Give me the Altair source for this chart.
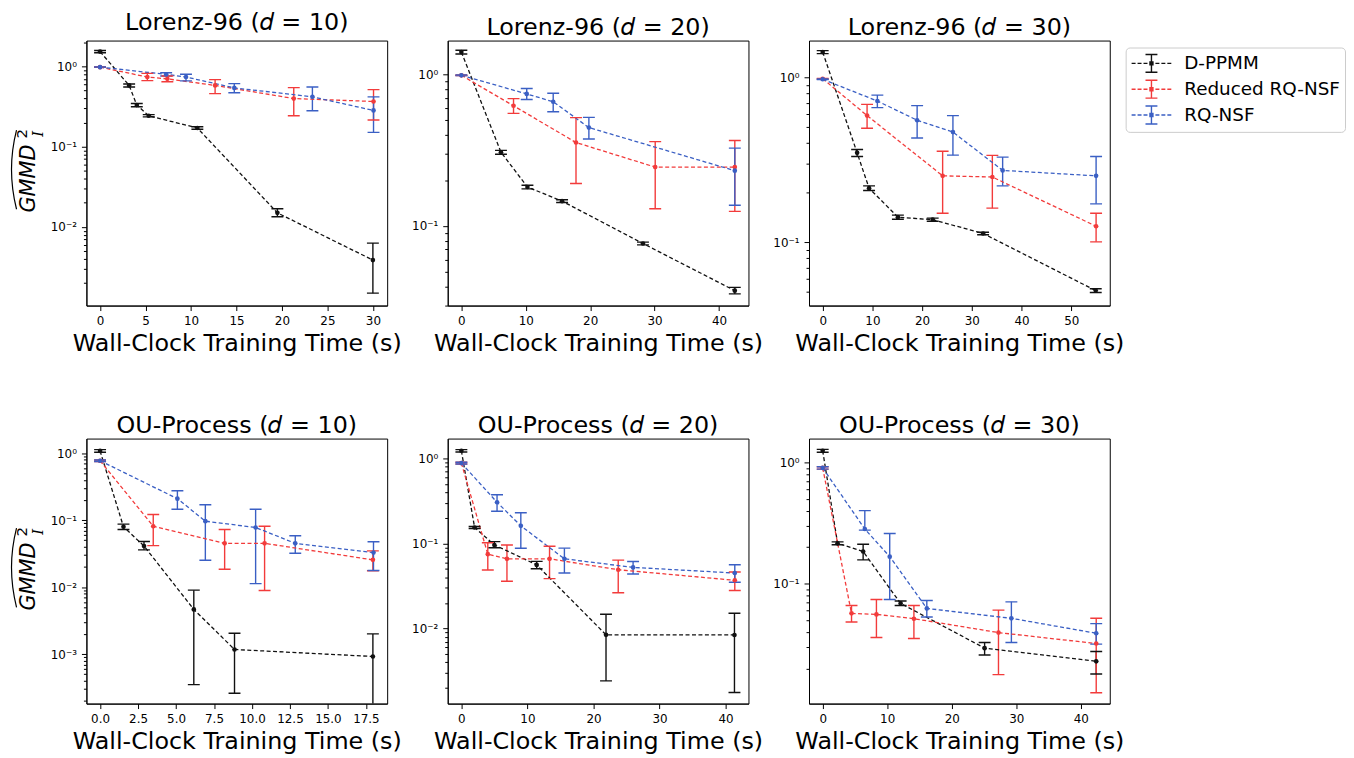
import altair as alt
import pandas as pd

FONT = "DejaVu Sans"
SERIES = ["D-PPMM", "Reduced RQ-NSF", "RQ-NSF"]
COLORS = ["#111111", "#f23b3b", "#3a5fc4"]
XTITLE = "Wall-Clock Training Time (s)"

# ---------------- Lorenz-96 (d = 10) ----------------
L10_DP_T = [0, 3.2, 4.04, 5.35, 10.7, 19.5, 30.0]
L10_DP_V = [1.53, 0.58, 0.33, 0.243, 0.171, 0.0150, 0.00387]
L10_DP_LO = [1.48, 0.555, 0.315, 0.235, 0.165, 0.0134, 0.0015]
L10_DP_HI = [1.58, 0.605, 0.345, 0.251, 0.177, 0.0169, 0.0063]
L10_RR_T = [0, 5.2, 7.4, 12.65, 21.3, 30.07]
L10_RR_V = [0.98, 0.738, 0.70, 0.58, 0.398, 0.366]
L10_RR_LO = [0.975, 0.665, 0.645, 0.459, 0.243, 0.215]
L10_RR_HI = [0.985, 0.82, 0.76, 0.684, 0.545, 0.514]
L10_RQ_T = [0, 7.27, 9.45, 14.76, 23.35, 30.07]
L10_RQ_V = [0.98, 0.796, 0.738, 0.54, 0.418, 0.283]
L10_RQ_LO = [0.975, 0.76, 0.66, 0.47, 0.28, 0.151]
L10_RQ_HI = [0.985, 0.835, 0.80, 0.61, 0.555, 0.418]

# ---------------- Lorenz-96 (d = 20) ----------------
L20_DP_T = [0, 6.15, 10.26, 15.64, 28.2, 42.46]
L20_DP_V = [1.41, 0.307, 0.181, 0.146, 0.0766, 0.0374]
L20_DP_LO = [1.37, 0.298, 0.176, 0.143, 0.0750, 0.0356]
L20_DP_HI = [1.45, 0.316, 0.186, 0.149, 0.0782, 0.0393]
L20_RR_T = [0, 8.1, 17.8, 30.1, 42.46]
L20_RR_V = [0.99, 0.623, 0.356, 0.245, 0.245]
L20_RR_LO = [0.985, 0.555, 0.191, 0.13, 0.125]
L20_RR_HI = [0.995, 0.695, 0.52, 0.361, 0.367]
L20_RQ_T = [0, 10.15, 14.26, 19.8, 42.46]
L20_RQ_V = [0.99, 0.746, 0.662, 0.447, 0.232]
L20_RQ_LO = [0.985, 0.685, 0.569, 0.376, 0.137]
L20_RQ_HI = [0.995, 0.81, 0.754, 0.522, 0.327]

# ---------------- Lorenz-96 (d = 30) ----------------
L30_DP_T = [0, 6.93, 9.33, 15.13, 22.13, 32.27, 54.93]
L30_DP_V = [1.43, 0.349, 0.213, 0.142, 0.137, 0.113, 0.0508]
L30_DP_LO = [1.40, 0.332, 0.206, 0.138, 0.134, 0.111, 0.0495]
L30_DP_HI = [1.46, 0.366, 0.220, 0.146, 0.140, 0.115, 0.0521]
L30_RR_T = [0, 8.93, 24.13, 34.13, 55.0]
L30_RR_V = [0.985, 0.588, 0.253, 0.249, 0.125]
L30_RR_LO = [0.98, 0.493, 0.15, 0.161, 0.1005]
L30_RR_HI = [0.99, 0.688, 0.357, 0.337, 0.15]
L30_RQ_T = [0, 11.0, 19.0, 26.2, 36.2, 55.0]
L30_RQ_V = [0.977, 0.721, 0.551, 0.467, 0.273, 0.253]
L30_RQ_LO = [0.972, 0.657, 0.43, 0.338, 0.22, 0.171]
L30_RQ_HI = [0.982, 0.783, 0.676, 0.588, 0.329, 0.332]

# ---------------- OU-Process (d = 10) ----------------
O10_DP_T = [0, 1.54, 2.89, 6.17, 8.85, 17.96]
O10_DP_V = [1.08, 0.0795, 0.0411, 0.00464, 0.00117, 0.00092]
O10_DP_LO = [1.03, 0.0725, 0.036, 0.00035, 0.00026, 0.0001]
O10_DP_HI = [1.13, 0.087, 0.048, 0.009, 0.00204, 0.002]
O10_RR_T = [0, 3.5, 8.2, 10.83, 17.96]
O10_RR_V = [0.77, 0.081, 0.045, 0.045, 0.0255]
O10_RR_LO = [0.75, 0.0416, 0.0185, 0.0089, 0.0175]
O10_RR_HI = [0.79, 0.121, 0.0725, 0.081, 0.0347]
O10_RQ_T = [0, 5.09, 6.93, 10.24, 12.85, 18.0]
O10_RQ_V = [0.77, 0.209, 0.0964, 0.0776, 0.045, 0.0327]
O10_RQ_LO = [0.75, 0.145, 0.0251, 0.01125, 0.032, 0.0177]
O10_RQ_HI = [0.79, 0.274, 0.17, 0.145, 0.0584, 0.0476]

# ---------------- OU-Process (d = 20) ----------------
O20_DP_T = [0, 2.0, 5.0, 11.4, 21.9, 41.35]
O20_DP_V = [1.23, 0.154, 0.096, 0.056, 0.00843, 0.0084]
O20_DP_LO = [1.19, 0.150, 0.089, 0.0505, 0.00242, 0.00177]
O20_DP_HI = [1.27, 0.158, 0.105, 0.0615, 0.0147, 0.0151]
O20_RR_T = [0, 4.0, 6.9, 13.35, 23.75, 41.4]
O20_RR_V = [0.88, 0.0748, 0.066, 0.066, 0.0491, 0.0369]
O20_RR_LO = [0.86, 0.0487, 0.0359, 0.0386, 0.0263, 0.028]
O20_RR_HI = [0.90, 0.102, 0.096, 0.0927, 0.0637, 0.0461]
O20_RQ_T = [0, 5.4, 9.0, 15.6, 26.0, 41.4]
O20_RQ_V = [0.88, 0.305, 0.161, 0.066, 0.0523, 0.0449]
O20_RQ_LO = [0.86, 0.239, 0.0879, 0.0449, 0.0437, 0.035]
O20_RQ_HI = [0.90, 0.374, 0.23, 0.088, 0.0614, 0.0562]

# ---------------- OU-Process (d = 30) ----------------
O30_DP_T = [0, 2.31, 6.27, 12.08, 25.1, 42.4]
O30_DP_V = [1.245, 0.215, 0.184, 0.0687, 0.0294, 0.0229]
O30_DP_LO = [1.21, 0.209, 0.157, 0.066, 0.0258, 0.018]
O30_DP_HI = [1.28, 0.221, 0.211, 0.072, 0.0327, 0.0276]
O30_RR_T = [0, 4.47, 8.33, 14.14, 27.25, 42.4]
O30_RR_V = [0.9, 0.0569, 0.0558, 0.0514, 0.0395, 0.0321]
O30_RR_LO = [0.88, 0.0483, 0.036, 0.0353, 0.0178, 0.0126]
O30_RR_HI = [0.92, 0.066, 0.074, 0.066, 0.0605, 0.0518]
O30_RQ_T = [0, 6.53, 10.39, 16.14, 29.25, 42.4]
O30_RQ_V = [0.9, 0.282, 0.167, 0.0625, 0.0518, 0.039]
O30_RQ_LO = [0.88, 0.276, 0.074, 0.0531, 0.0327, 0.0317]
O30_RQ_HI = [0.92, 0.4, 0.259, 0.0726, 0.0708, 0.0468]

# axis ranges / tick values
L10_XDOM, L10_YDOM, L10_XTICKS = [-1.5, 31.57], [0.00105, 2.1], [0, 5, 10, 15, 20, 25, 30]
L20_XDOM, L20_YDOM, L20_XTICKS = [-2.12, 44.58], [0.0298, 1.68], [0, 10, 20, 30, 40]
L30_XDOM, L30_YDOM, L30_XTICKS = [-2.75, 57.75], [0.0412, 1.68], [0, 10, 20, 30, 40, 50]
O10_XDOM, O10_YDOM, O10_XTICKS = [-0.9, 18.9], [0.000182, 1.65], [0, 2.5, 5, 7.5, 10, 12.5, 15, 17.5]
O20_XDOM, O20_YDOM, O20_XTICKS = [-2.07, 43.47], [0.00131, 1.71], [0, 10, 20, 30, 40]
O30_XDOM, O30_YDOM, O30_XTICKS = [-2.12, 44.5], [0.01026, 1.57], [0, 10, 20, 30, 40]

W, H = 303, 267
LOGE = "log(datum.value)/LN10"
DEC_TEST = f"abs({LOGE} - round({LOGE})) < 0.001"
LABEL_EXPR = (
    f"({DEC_TEST}) ? (round({LOGE}) == 0 ? '10⁰' : round({LOGE}) == -1 ? '10⁻¹' : "
    f"round({LOGE}) == -2 ? '10⁻²' : round({LOGE}) == -3 ? '10⁻³' : '10⁻⁴') : ''"
)

LEG_PATH = (
    "M-1,0H-0.6M-0.4,0H0M0.2,0H0.6M0.8,0H1.2M1.4,0H1.8M2,0H2.4M2.6,0H3"
    "M1,-0.9V0.9M0.4,-0.9H1.6M0.4,0.9H1.6M0.85,-0.15H1.15V0.15H0.85Z"
)


def log_ticks(dom):
    vals = []
    for e in range(-5, 2):
        for m in range(1, 10):
            v = m * 10.0 ** e
            if dom[0] <= v <= dom[1]:
                vals.append(v)
    return vals


def make_df(parts):
    rows = []
    for s, (t, v, lo, hi) in zip(SERIES, parts):
        for i in range(len(t)):
            rows.append(dict(series=s, i=i, t=t[i], v=v[i], lo=lo[i], hi=hi[i]))
    return pd.DataFrame(rows)


def ylabel_layers():
    d = pd.DataFrame({"k": [0]})
    base = alt.Chart(d)
    gm = base.mark_text(text="GMMD", angle=270, fontSize=21, fontStyle="italic", font=FONT,
                        align="center", baseline="middle", color="black").encode(
        x=alt.value(-58), y=alt.value(139))
    sup = base.mark_text(text="2", angle=270, fontSize=15, font=FONT,
                         align="center", baseline="middle", color="black").encode(
        x=alt.value(-65), y=alt.value(94))
    sub = base.mark_text(text="I", angle=270, fontSize=15, fontStyle="italic", font="DejaVu Serif",
                         align="center", baseline="middle", color="black").encode(
        x=alt.value(-49), y=alt.value(94))
    hat = base.mark_arc(theta=4.712 - 0.249, theta2=4.712 + 0.249, radius=162.5, radius2=161.3,
                        color="black").encode(x=alt.value(86.5), y=alt.value(130))
    return [gm, sup, sub, hat]


def panel(title, parts, xdom, ydom, xticks, xfmt, ylab=False, legend=False):
    df = make_df(parts)
    base = alt.Chart(df)
    x = alt.X("t:Q", scale=alt.Scale(domain=xdom, nice=False, zero=False),
              axis=alt.Axis(values=xticks, format=xfmt, title=XTITLE, titlePadding=5))
    yscale = alt.Scale(type="log", domain=ydom, nice=False)
    yaxis = alt.Axis(values=log_ticks(ydom), labelExpr=LABEL_EXPR, title=None, labelOverlap=False,
                     tickSize={"condition": {"test": DEC_TEST, "value": 5}, "value": 3})
    cscale = alt.Scale(domain=SERIES, range=COLORS)
    leg = None
    if legend:
        leg = alt.Legend(orient="none", legendX=319, legendY=7, title=None,
                         symbolType=LEG_PATH, symbolSize=400, symbolStrokeWidth=1.4,
                         symbolFillColor="transparent",
                         labelFontSize=18.5, labelFont=FONT, labelColor="black", labelOffset=32,
                         padding=5, strokeColor="#cccccc", fillColor="white", cornerRadius=4,
                         rowPadding=2)
    col = alt.Color("series:N", scale=cscale, legend=leg)

    line = base.mark_line(strokeDash=[4, 2.5], strokeWidth=1.3).encode(
        x=x, y=alt.Y("v:Q", scale=yscale, axis=yaxis), color=col, order="i:Q")
    rule = base.mark_rule(strokeWidth=1.4, clip=True).encode(
        x=x, y=alt.Y("lo:Q", scale=yscale), y2="hi:Q", color=col)
    cap_lo = base.mark_tick(orient="horizontal", size=12, thickness=1.4, opacity=1, clip=True).encode(
        x=x, y=alt.Y("lo:Q", scale=yscale), color=col)
    cap_hi = base.mark_tick(orient="horizontal", size=12, thickness=1.4, opacity=1, clip=True).encode(
        x=x, y=alt.Y("hi:Q", scale=yscale), color=col)
    pts = base.mark_circle(size=22, opacity=1).encode(
        x=x, y=alt.Y("v:Q", scale=yscale), color=col)
    layers = [rule, line, cap_lo, cap_hi, pts]
    if ylab:
        layers += ylabel_layers()
    return alt.layer(*layers).properties(
        width=W, height=H,
        title=alt.TitleParams(text=title, fontSize=24, font=FONT, fontWeight="normal",
                              color="black", anchor="middle", offset=1, frame="group"))


p1 = panel("Lorenz-96 (𝑑 = 10)",
           [(L10_DP_T, L10_DP_V, L10_DP_LO, L10_DP_HI), (L10_RR_T, L10_RR_V, L10_RR_LO, L10_RR_HI),
            (L10_RQ_T, L10_RQ_V, L10_RQ_LO, L10_RQ_HI)], L10_XDOM, L10_YDOM, L10_XTICKS, "d", ylab=True)
p2 = panel("Lorenz-96 (𝑑 = 20)",
           [(L20_DP_T, L20_DP_V, L20_DP_LO, L20_DP_HI), (L20_RR_T, L20_RR_V, L20_RR_LO, L20_RR_HI),
            (L20_RQ_T, L20_RQ_V, L20_RQ_LO, L20_RQ_HI)], L20_XDOM, L20_YDOM, L20_XTICKS, "d")
p3 = panel("Lorenz-96 (𝑑 = 30)",
           [(L30_DP_T, L30_DP_V, L30_DP_LO, L30_DP_HI), (L30_RR_T, L30_RR_V, L30_RR_LO, L30_RR_HI),
            (L30_RQ_T, L30_RQ_V, L30_RQ_LO, L30_RQ_HI)], L30_XDOM, L30_YDOM, L30_XTICKS, "d", legend=True)
p4 = panel("OU-Process (𝑑 = 10)",
           [(O10_DP_T, O10_DP_V, O10_DP_LO, O10_DP_HI), (O10_RR_T, O10_RR_V, O10_RR_LO, O10_RR_HI),
            (O10_RQ_T, O10_RQ_V, O10_RQ_LO, O10_RQ_HI)], O10_XDOM, O10_YDOM, O10_XTICKS, ".1f", ylab=True)
p5 = panel("OU-Process (𝑑 = 20)",
           [(O20_DP_T, O20_DP_V, O20_DP_LO, O20_DP_HI), (O20_RR_T, O20_RR_V, O20_RR_LO, O20_RR_HI),
            (O20_RQ_T, O20_RQ_V, O20_RQ_LO, O20_RQ_HI)], O20_XDOM, O20_YDOM, O20_XTICKS, "d")
p6 = panel("OU-Process (𝑑 = 30)",
           [(O30_DP_T, O30_DP_V, O30_DP_LO, O30_DP_HI), (O30_RR_T, O30_RR_V, O30_RR_LO, O30_RR_HI),
            (O30_RQ_T, O30_RQ_V, O30_RQ_LO, O30_RQ_HI)], O30_XDOM, O30_YDOM, O30_XTICKS, "d")

chart = alt.concat(p1, p2, p3, p4, p5, p6, columns=3,
                   spacing={"row": 134, "column": 61}, bounds="flush").resolve_scale(
    color="independent").resolve_legend(color="independent").properties(
    padding={"left": 2, "top": 0, "right": 0, "bottom": 0}
).configure_view(stroke="black", strokeWidth=1).configure_axis(
    domainColor="black", tickColor="black", labelColor="black", labelFont=FONT, labelFontSize=12,
    titleFont=FONT, titleFontSize=24, titleFontWeight="normal", titleColor="black", grid=False,
    tickSize=5, labelPadding=5, domainWidth=1, tickWidth=1
)

chart.save("out.html", embed_options={"renderer": "svg", "actions": False})
